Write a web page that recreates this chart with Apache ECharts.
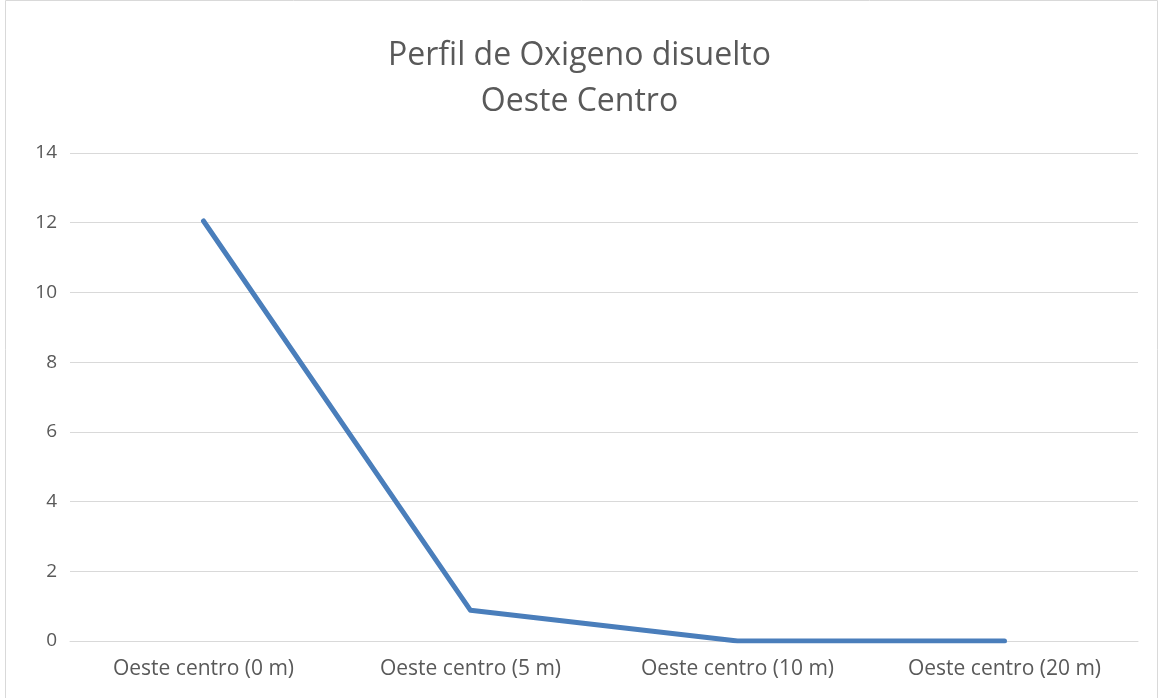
<!DOCTYPE html>
<html>
<head>
<meta charset="utf-8">
<script src="https://cdn.jsdelivr.net/npm/echarts@6/dist/echarts.min.js"></script>
<style>
  html, body { margin: 0; padding: 0; background: #fff; }
  #chart { width: 1159px; height: 698px; }
</style>
</head>
<body>
<div id="chart"></div>
<script>
// datos del perfil
const categories = ['Oeste centro (0 m)', 'Oeste centro (5 m)', 'Oeste centro (10 m)', 'Oeste centro (20 m)']
const oxigeno = [12.05, 0.88, 0, 0]

const chart = echarts.init(document.getElementById('chart'))

const option = {
  animation: false,
  title: {
    text: 'Perfil de Oxigeno disuelto\nOeste Centro',
    left: 'center',
    top: 28,
    textStyle: {
      fontFamily: 'Open Sans',
      fontSize: 32,
      fontWeight: 'normal',
      color: '#595959',
      lineHeight: 46
    }
  },
  graphic: [{
    type: 'rect',
    shape: { x: 5.5, y: 0.5, width: 1152, height: 700 },
    style: { fill: 'none', stroke: '#d9d9d9', lineWidth: 1 }
  }],
  grid: { left: 70, right: 21, top: 153, bottom: 57 },
  xAxis: {
    type: 'category',
    data: categories,
    boundaryGap: true,
    axisLine: { lineStyle: { color: '#d9d9d9', width: 1 } },
    axisTick: { show: false },
    axisLabel: { color: '#595959', fontFamily: 'Open Sans', fontSize: 21, margin: 18 }
  },
  yAxis: {
    type: 'value',
    min: 0,
    max: 14,
    interval: 2,
    axisLine: { show: false },
    axisTick: { show: false },
    splitLine: { lineStyle: { color: '#d9d9d9', width: 1 } },
    axisLabel: { color: '#595959', fontFamily: 'Open Sans', fontSize: 19, margin: 13 }
  },
  series: [{
    type: 'line',
    data: oxigeno,
    symbol: 'none',
    lineStyle: { color: '#4a7ebb', width: 5, cap: 'round', join: 'round' }
  }]
}

chart.setOption(option)
</script>
</body>
</html>
